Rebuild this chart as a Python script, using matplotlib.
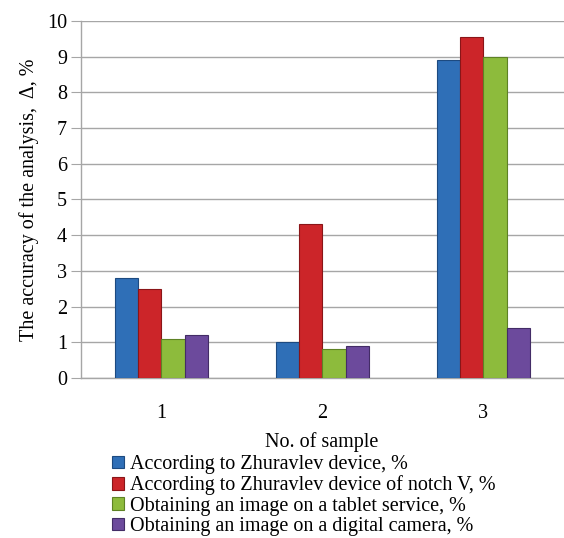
import numpy as np
from matplotlib import pyplot as plt

plt.rcParams['font.family'] = ['Liberation Serif', 'DejaVu Serif']

# Samples and measured accuracy for each method
samples = ['1', '2', '3']
zhuravlev = [2.8, 1.0, 8.9]
zhuravlev_notch = [2.5, 4.3, 9.55]
tablet = [1.1, 0.8, 9.0]
camera = [1.2, 0.9, 1.4]

series_names = ['According to Zhuravlev device, %',
                'According to Zhuravlev device of notch V, %',
                'Obtaining an image on a tablet service, %',
                'Obtaining an image on a digital camera, %']
colors = ['#2f6fb7', '#cc2529', '#8dbb3c', '#6c4a9c']
edges = ['#1d4a80', '#8a1518', '#5e8225', '#432c66']

fig = plt.figure(figsize=(5.64, 5.38), dpi=100)
ax = fig.add_axes([0.1436, 0.2974, 0.8564, 0.6636])

x = np.arange(1, len(samples) + 1)
w = 0.145
all_series = [zhuravlev, zhuravlev_notch, tablet, camera]
for i, vals in enumerate(all_series):
    ax.bar(x + (i - 1.5) * w, vals, width=w, color=colors[i],
           edgecolor=edges[i], linewidth=0.8, label=series_names[i], zorder=3)

ax.set_xlim(0.5, 3.5)
ax.set_ylim(0, 10)
ax.set_yticks(range(0, 11))
ax.set_xticks(x)
ax.set_xticklabels(samples)
ax.yaxis.grid(True, color='#a6a6a6', linewidth=1.0, zorder=0)
ax.tick_params(axis='y', length=7, color='#a6a6a6', labelsize=14.5, pad=3)
ax.tick_params(axis='x', length=0, labelsize=14.5, pad=19)
for s in ['top', 'right']:
    ax.spines[s].set_visible(False)
for s in ['left', 'bottom']:
    ax.spines[s].set_color('#a6a6a6')
    ax.spines[s].set_linewidth(1.0)

ax.set_ylabel('The accuracy of the analysis,  \u0394, %', fontsize=14.5, labelpad=6)
fig.text(0.571, 1 - 442 / 538, 'No. of sample', fontsize=14.5, ha='center', va='center')

fig.legend(loc='upper left', bbox_to_anchor=(0.198, 1 - 455 / 538), frameon=False,
           fontsize=14.5, handlelength=0.6, handleheight=0.6, handletextpad=0.3,
           labelspacing=0.07, borderaxespad=0, borderpad=0)

fig.savefig('out.png', dpi=100)
